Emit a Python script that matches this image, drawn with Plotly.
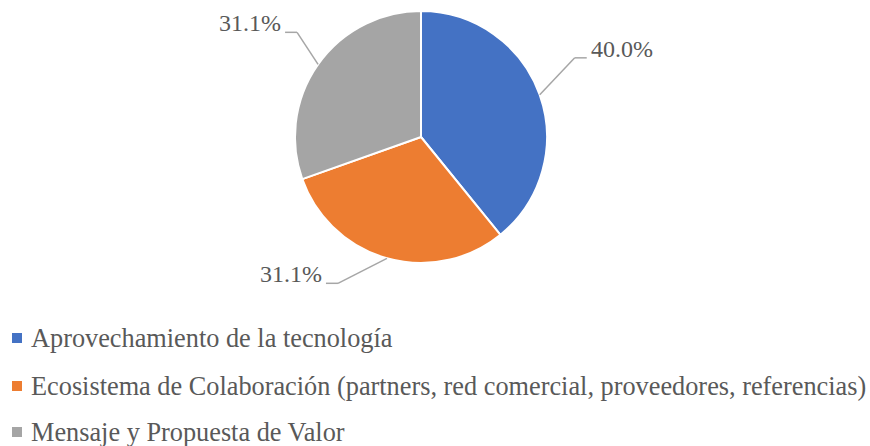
import math
import plotly.graph_objects as go

# ---- data ----
categories = [
    "Aprovechamiento de la tecnología",
    "Ecosistema de Colaboración (partners, red comercial, proveedores, referencias)",
    "Mensaje y Propuesta de Valor",
]
values = [40.0, 31.1, 31.1]
value_labels = ["40.0%", "31.1%", "31.1%"]

# ---- styling ----
colors = ["#4472C4", "#ED7D31", "#A5A5A5"]
W, H = 870, 446
CX, CY, R = 421, 137, 126          # pie centre / radius in px
label_elbow_offsets = [(35, -37), (-49, 25), (-21, -32)]  # px from slice edge
HSEG = 12
FONT = "Liberation Serif"
TXT = "#595959"
LINE = "#A6A6A6"


def px(x):
    return x / W


def py(y):
    return 1 - y / H


fig = go.Figure()
fig.add_trace(go.Pie(
    labels=categories,
    values=values,
    sort=False,
    direction="clockwise",
    rotation=0,
    textinfo="none",
    hoverinfo="label+value",
    marker=dict(colors=colors, line=dict(color="white", width=2)),
    domain=dict(x=[px(CX - R), px(CX + R)], y=[py(CY + R), py(CY - R)]),
    showlegend=False,
))

shapes = []
annotations = []
total = sum(values)
cum = 0.0
for i, v in enumerate(values):
    mid = (cum + v / 2) / total * 2 * math.pi
    cum += v
    ex = CX + R * math.sin(mid)
    ey = CY - R * math.cos(mid)
    ox, oy = label_elbow_offsets[i]
    bx, by = ex + ox, ey + oy
    right = bx > CX
    hx = bx + (HSEG if right else -HSEG)
    shapes.append(dict(type="line", xref="paper", yref="paper",
                       x0=px(ex), y0=py(ey), x1=px(bx), y1=py(by),
                       line=dict(color=LINE, width=1.5)))
    shapes.append(dict(type="line", xref="paper", yref="paper",
                       x0=px(bx), y0=py(by), x1=px(hx), y1=py(by),
                       line=dict(color=LINE, width=1.5)))
    annotations.append(dict(
        x=px(hx + (2 if right else -2)), y=py(by - 9), xref="paper", yref="paper",
        text=value_labels[i], showarrow=False,
        xanchor="left" if right else "right", yanchor="middle",
        font=dict(family=FONT, size=24, color=TXT)))

# legend (manual)
leg_rows = [338, 386, 432]
for i, cat in enumerate(categories):
    yc = leg_rows[i]
    shapes.append(dict(type="rect", xref="paper", yref="paper",
                       x0=px(12), x1=px(22), y0=py(yc - 5), y1=py(yc + 5),
                       fillcolor=colors[i], line=dict(width=0)))
    annotations.append(dict(
        x=px(30), y=py(yc), xref="paper", yref="paper", text=cat,
        showarrow=False, xanchor="left", yanchor="middle", borderpad=0,
        font=dict(family=FONT, size=26.3, color=TXT)))

fig.update_layout(
    width=W, height=H,
    margin=dict(l=0, r=0, t=0, b=0),
    paper_bgcolor="white", plot_bgcolor="white",
    shapes=shapes, annotations=annotations,
    showlegend=False,
)
fig.write_html("out.html", config={"displayModeBar": False},
               post_script="document.body.style.margin='0';document.body.style.overflow='hidden';")
